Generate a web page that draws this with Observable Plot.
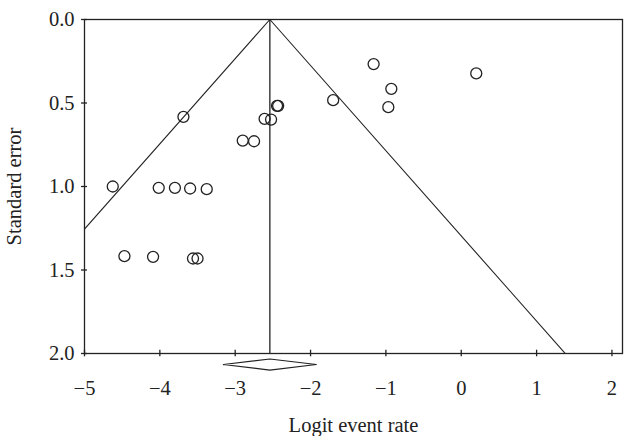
<!DOCTYPE html>
<html>
<head>
<meta charset="utf-8">
<script src="https://cdn.jsdelivr.net/npm/d3@7"></script>
<script src="https://cdn.jsdelivr.net/npm/@observablehq/plot@0.6"></script>
<style>
  html, body { margin: 0; padding: 0; background: #fff; }
</style>
</head>
<body>
<div id="chart"></div>
<script>
// Study logit event rates and standard errors
const studyX  = [-4.625, -3.687, -4.015, -3.80, -3.598, -3.378, -2.90, -2.75, -2.61, -2.524, -2.445, -2.43,
                 -4.47, -4.09, -3.56, -3.50,
                 -1.163, 0.199, -0.928, -1.70, -0.968];
const studySE = [1.000, 0.583, 1.008, 1.008, 1.012, 1.016, 0.725, 0.729, 0.595, 0.599, 0.517, 0.517,
                 1.417, 1.421, 1.431, 1.431,
                 0.267, 0.323, 0.415, 0.483, 0.525];
// Pooled estimate and its confidence interval
const pooled = -2.54;
const ciLow = -3.157;
const ciHigh = -1.923;
const diamondY = 2.066;
const diamondHalfH = 0.033;
// Axis ticks
const xTicks = [-5, -4, -3, -2, -1, 0, 1, 2];
const yTicks = [0, 0.5, 1.0, 1.5, 2.0];
const xDomain = [-5, 2.14];
const yDomain = [0, 2];
const funnelSE = [0, 2];

const points = studyX.map((x, i) => ({x, se: studySE[i]}));
const leftLine = funnelSE.map(se => ({x: pooled - 1.96 * se, se}));
const rightLine = funnelSE.map(se => ({x: pooled + 1.96 * se, se}));
const diamond = [
  {x: ciLow, y: diamondY},
  {x: pooled, y: diamondY - diamondHalfH},
  {x: ciHigh, y: diamondY},
  {x: pooled, y: diamondY + diamondHalfH},
  {x: ciLow, y: diamondY}
];

const ink = "#222";
const chart = Plot.plot({
  width: 629,
  height: 436,
  marginLeft: 84,
  marginRight: 7,
  marginTop: 19,
  marginBottom: 83,
  style: {fontFamily: "'Liberation Serif', 'DejaVu Serif', serif", fontSize: "20.5px", color: ink, background: "#fff"},
  x: {domain: xDomain},
  y: {domain: yDomain, reverse: true},
  marks: [
    Plot.frame({stroke: ink, strokeWidth: 1.3}),
    Plot.axisX({ticks: xTicks, tickSize: 0, tickPadding: 27, tickFormat: d => d < 0 ? "\u2212" + Math.abs(d) : String(d),
      label: "Logit event rate", labelAnchor: "center", labelArrow: "none", labelOffset: 78}),
    Plot.axisY({ticks: yTicks, tickSize: 0, tickPadding: 10, tickFormat: d => d.toFixed(1),
      label: "Standard error", labelAnchor: "center", labelArrow: "none", labelOffset: 78}),
    Plot.ruleX(xTicks, {x: d => d, y1: yDomain[1], y2: yDomain[1], insetTop: -3.3, insetBottom: -3.3, stroke: ink, strokeWidth: 1.3}),
    Plot.ruleY(yTicks, {y: d => d, x1: xDomain[0], x2: xDomain[0], insetLeft: -3, insetRight: -3, stroke: ink, strokeWidth: 1.3}),
    Plot.ruleX([pooled], {y1: yDomain[0], y2: yDomain[1], stroke: ink, strokeWidth: 1.3}),
    Plot.line(leftLine, {x: "x", y: "se", stroke: ink, strokeWidth: 1.1, clip: true}),
    Plot.line(rightLine, {x: "x", y: "se", stroke: ink, strokeWidth: 1.1, clip: true}),
    Plot.line(diamond, {x: "x", y: "y", stroke: ink, strokeWidth: 1.2, fill: "none"}),
    Plot.dot(points, {x: "x", y: "se", r: 5.5, stroke: ink, strokeWidth: 1.3, fill: "none"})
  ]
});
document.getElementById("chart").appendChild(chart);
</script>
</body>
</html>
